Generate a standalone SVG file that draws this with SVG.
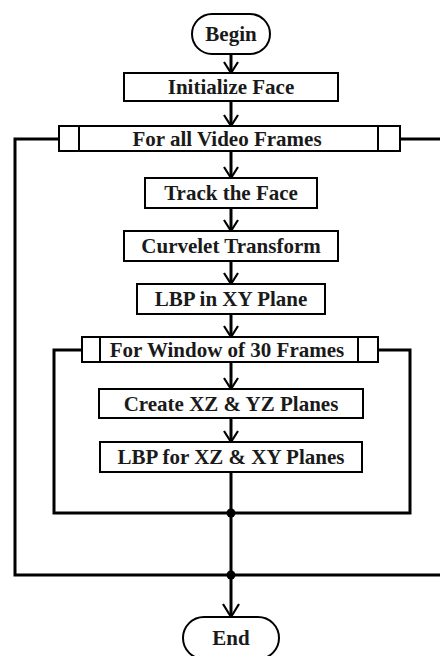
<svg xmlns="http://www.w3.org/2000/svg" width="440" height="656" viewBox="0 0 440 656">
<style>
.box{fill:#fff;stroke:#000;stroke-width:2}
.t{font-family:"Liberation Serif","Times New Roman",serif;font-weight:bold;font-size:21px;fill:#1a1a1a;text-anchor:middle}
.ln{fill:none;stroke:#000;stroke-width:3}
.ah{fill:none;stroke:#000;stroke-width:2.2}
</style>
<rect width="440" height="656" fill="#fff"/>
<g id="connectors">
  <!-- outer loop -->
  <polyline class="ln" points="59,139 15,139 15,575 440,575"/>
  <line class="ln" x1="400" y1="139" x2="440" y2="139"/>
  <!-- inner loop -->
  <polyline class="ln" points="82,350 54,350 54,513 410,513 410,350 378,350"/>
  <!-- vertical arrows -->
  <line class="ln" x1="231" y1="54" x2="231" y2="72"/>
  <polyline class="ah" points="224,62 231,73 238,62"/>
  <line class="ln" x1="231" y1="101" x2="231" y2="125"/>
  <polyline class="ah" points="224,115 231,126 238,115"/>
  <line class="ln" x1="231" y1="152" x2="231" y2="177"/>
  <polyline class="ah" points="224,167 231,178 238,167"/>
  <line class="ln" x1="231" y1="208" x2="231" y2="230"/>
  <polyline class="ah" points="224,220 231,231 238,220"/>
  <line class="ln" x1="231" y1="261" x2="231" y2="283"/>
  <polyline class="ah" points="224,273 231,284 238,273"/>
  <line class="ln" x1="231" y1="314" x2="231" y2="336"/>
  <polyline class="ah" points="224,326 231,337 238,326"/>
  <line class="ln" x1="231" y1="362" x2="231" y2="388"/>
  <polyline class="ah" points="224,378 231,389 238,378"/>
  <line class="ln" x1="231" y1="418" x2="231" y2="441"/>
  <polyline class="ah" points="224,431 231,442 238,431"/>
  <line class="ln" x1="231" y1="472" x2="231" y2="616"/>
  <polyline class="ah" points="223,604 231,617 239,604"/>
  <circle cx="231" cy="513" r="4.5" fill="#000"/>
  <circle cx="231" cy="575" r="4.5" fill="#000"/>
</g>
<g id="begin">
  <rect class="box" x="192" y="14" width="78" height="40" rx="20"/>
  <text class="t" x="231" y="41">Begin</text>
</g>
<g id="init">
  <rect class="box" x="124" y="73" width="214" height="28"/>
  <text class="t" x="231" y="94">Initialize Face</text>
</g>
<g id="forall">
  <rect class="box" x="59" y="126" width="341" height="25"/>
  <line class="box" x1="79" y1="126" x2="79" y2="151"/>
  <line class="box" x1="378" y1="126" x2="378" y2="151"/>
  <text class="t" x="227" y="146">For all Video Frames</text>
</g>
<g id="track">
  <rect class="box" x="145" y="178" width="172" height="30"/>
  <text class="t" x="231" y="200">Track the Face</text>
</g>
<g id="curvelet">
  <rect class="box" x="124" y="231" width="214" height="30"/>
  <text class="t" x="231" y="253">Curvelet Transform</text>
</g>
<g id="lbpxy">
  <rect class="box" x="137" y="284" width="188" height="30"/>
  <text class="t" x="231" y="306">LBP in XY Plane</text>
</g>
<g id="forwin">
  <rect class="box" x="82" y="337" width="296" height="25"/>
  <line class="box" x1="100" y1="337" x2="100" y2="362"/>
  <line class="box" x1="358" y1="337" x2="358" y2="362"/>
  <text class="t" x="227" y="357">For Window of 30 Frames</text>
</g>
<g id="create">
  <rect class="box" x="99" y="389" width="264" height="29"/>
  <text class="t" x="231" y="411">Create XZ &amp; YZ Planes</text>
</g>
<g id="lbpxz">
  <rect class="box" x="100" y="442" width="262" height="30"/>
  <text class="t" x="231" y="464">LBP for XZ &amp; XY Planes</text>
</g>
<g id="end">
  <rect class="box" x="183" y="617" width="96" height="42" rx="21"/>
  <text class="t" x="231" y="645">End</text>
</g>
</svg>
